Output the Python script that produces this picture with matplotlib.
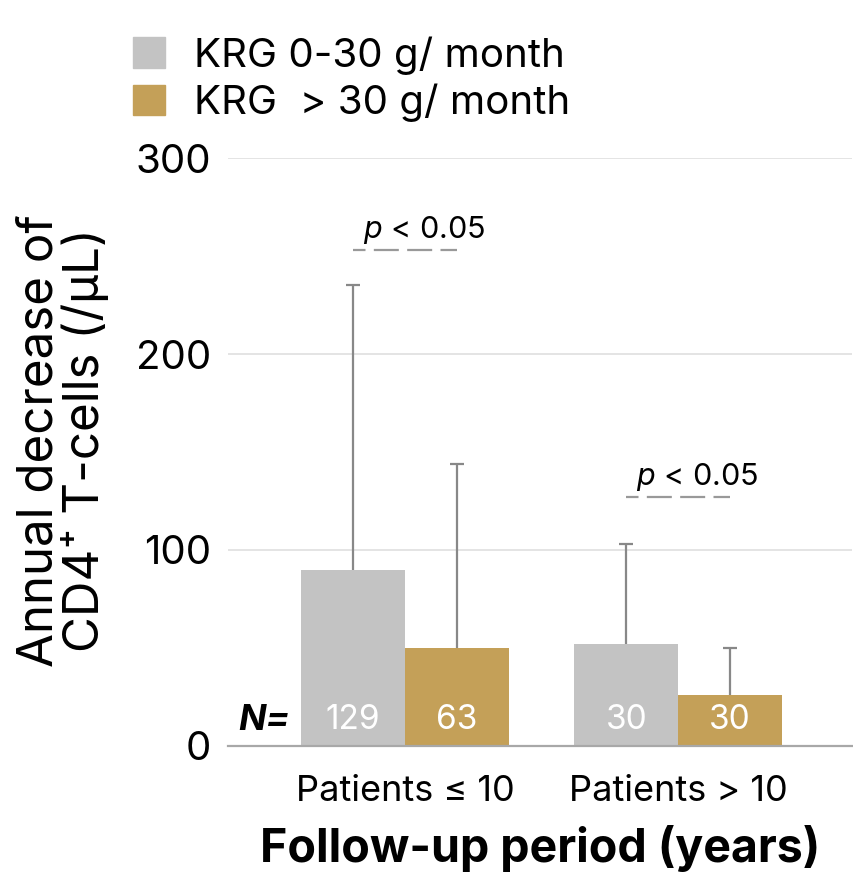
import numpy as np
import matplotlib
matplotlib.use("Agg")
import matplotlib.pyplot as plt
from matplotlib.patches import Patch

plt.rcParams['font.family'] = ['Inter', 'DejaVu Sans']
plt.rcParams['mathtext.fontset'] = 'custom'
plt.rcParams['mathtext.it'] = 'Inter:italic'
plt.rcParams['mathtext.rm'] = 'Inter'
plt.rcParams['lines.scale_dashes'] = False

# data
categories = ["Patients \u2264 10", "Patients > 10"]
series_names = ["KRG 0-30 g/ month", "KRG  > 30 g/ month"]
low_mean = [90, 52]
low_sd = [145, 51]
high_mean = [50, 26]
high_sd = [94, 24]
low_n = [129, 30]
high_n = [63, 30]
p_level = [253, 127]
p_label = "$p$ < 0.05"
yticks = [0, 100, 200, 300]

gray = "#c3c3c3"
gold = "#c4a058"
err_col = "#888888"

fig = plt.figure(figsize=(8.54, 8.73), dpi=100)
ax = fig.add_axes([0.267, 0.1455, 0.731, 0.6735])

x = np.arange(len(categories))
w = 0.38

ax.bar(x - w / 2, low_mean, w, color=gray, zorder=2)
ax.bar(x + w / 2, high_mean, w, color=gold, zorder=2)

err_kw = dict(fmt="none", ecolor=err_col, elinewidth=1.6, capsize=4.7, capthick=1.6, zorder=1)
for xs, m, sd in [(x - w / 2, low_mean, low_sd), (x + w / 2, high_mean, high_sd)]:
    eb = ax.errorbar(xs, m, yerr=[np.zeros(len(x)), sd], **err_kw)
    # only the upper cap is drawn in the original
    eb[1][0].set_visible(False)

for i in range(len(x)):
    ax.text(x[i] - w / 2, 13, str(low_n[i]), color="white", ha="center", va="center", fontsize=24, zorder=3)
    ax.text(x[i] + w / 2, 13, str(high_n[i]), color="white", ha="center", va="center", fontsize=24, zorder=3)
    # significance markers
    ax.plot([x[i] - w / 2, x[i] + w / 2], [p_level[i], p_level[i]], color="#999999", lw=1.6,
            linestyle=(9, (18, 6)), zorder=3)
    ax.text(x[i] + 0.07, p_level[i] + 2, p_label, ha="center", va="bottom", fontsize=22)

ax.text(-0.517, 13, "N=", ha="center", va="center", fontsize=26, fontweight="bold", fontstyle="italic")

ax.set_xlim(-0.648, 1.637)
ax.set_ylim(0, 300)
ax.set_yticks(yticks)
ax.set_xticks(x)
ax.set_xticklabels(categories, fontsize=26)
ax.tick_params(axis="y", labelsize=29, length=0, pad=12)
ax.tick_params(axis="x", length=0, pad=21)
ax.yaxis.grid(True, color="#e4e4e4", lw=1.4, zorder=0)
ax.set_axisbelow(True)
for side in ["left", "right", "top"]:
    ax.spines[side].set_visible(False)
ax.spines["bottom"].set_color("#a8a8a8")
ax.spines["bottom"].set_linewidth(1.6)

ax.set_ylabel("Annual decrease of\nCD4\u207a T-cells (/\u03bcL)", fontsize=35.5, linespacing=0.98)
ax.yaxis.set_label_coords(-0.19, 0.52)
ax.set_xlabel("Follow-up period (years)", fontsize=33.5, fontweight="bold", labelpad=12)

handles = [Patch(color=gray), Patch(color=gold)]
fig.legend(handles, series_names, loc="upper left", bbox_to_anchor=(0.137, 0.977), frameon=False,
           fontsize=29, handlelength=0.8, handleheight=0.8, handletextpad=0.7, labelspacing=0.22,
           borderaxespad=0)

fig.savefig("out.png", dpi=100)
